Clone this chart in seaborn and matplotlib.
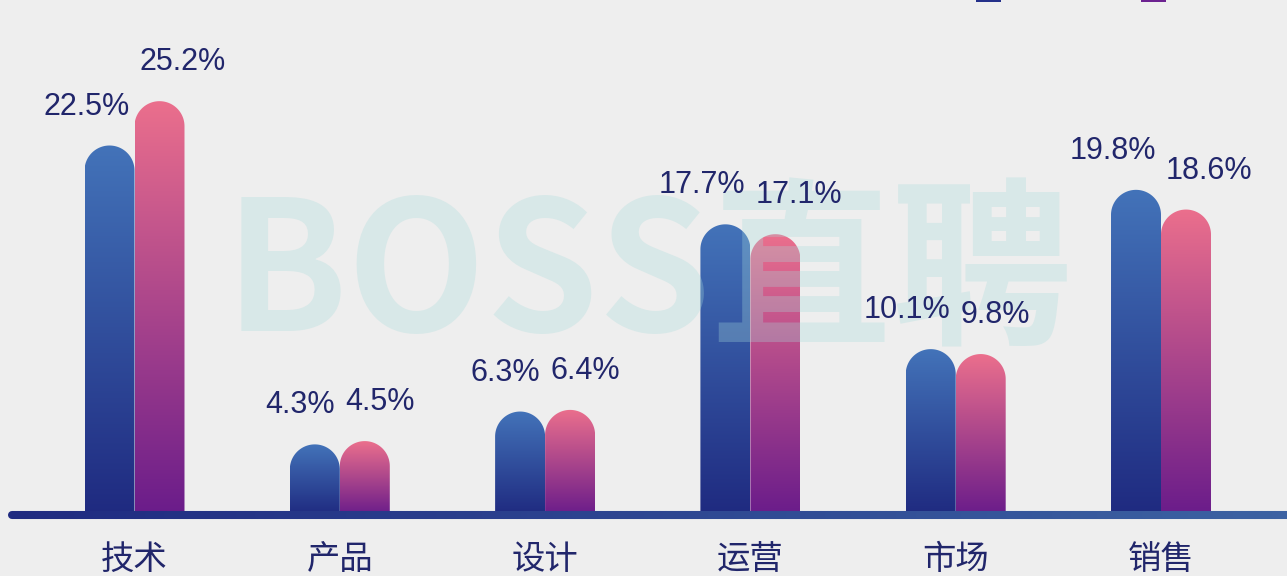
import numpy as np
import pandas as pd
import matplotlib
matplotlib.use("Agg")
import matplotlib.pyplot as plt
import seaborn as sns
from matplotlib.path import Path
from matplotlib.patches import PathPatch, Patch
from matplotlib.colors import LinearSegmentedColormap
from matplotlib.collections import LineCollection
from matplotlib.transforms import blended_transform_factory

# ── Data ─────────────────────────────────────────────────────────────────────
categories = ["技术", "产品", "设计", "运营", "市场", "销售"]
series_names = ["2023年", "2024年"]
values_a = [22.5, 4.3, 6.3, 17.7, 10.1, 19.8]
values_b = [25.2, 4.5, 6.4, 17.1, 9.8, 18.6]
watermark = "BOSS直聘"

# ── Style ────────────────────────────────────────────────────────────────────
BG = "#eeeeee"
TEXT = "#21266b"
grad_a = LinearSegmentedColormap.from_list("a", ["#1f2a80", "#4373b9"])
grad_b = LinearSegmentedColormap.from_list("b", ["#6a1c8a", "#eb6f8d"])
grad_line = LinearSegmentedColormap.from_list("l", ["#1f2a80", "#3c62a2"])

sns.set_theme(style="white")
plt.rcParams["font.family"] = ["Noto Sans CJK SC", "DejaVu Sans"]

df = pd.DataFrame({
    "岗位": categories * 2,
    "系列": [series_names[0]] * len(categories) + [series_names[1]] * len(categories),
    "占比": values_a + values_b,
})

W, H = 1287, 576
fig = plt.figure(figsize=(W / 100, H / 100), dpi=100, facecolor=BG)
ax = fig.add_axes([31.85 / W, 61 / H, 1231.8 / W, 515 / H])
ax.set_facecolor(BG)

sns.barplot(data=df, x="岗位", y="占比", hue="系列", order=categories,
            hue_order=series_names, width=0.487, gap=0, saturation=1,
            palette=["#27308a", "#6e2390"], legend=False, ax=ax)
ax.set_xlim(-0.5, 5.5)
ax.set_ylim(0, 31.36)

# pixel ratio so the rounded caps come out circular
p0 = ax.transData.transform((0, 0))
px_x = ax.transData.transform((1, 0))[0] - p0[0]
px_y = ax.transData.transform((0, 1))[1] - p0[1]

for container, cmap, side in zip(ax.containers, [grad_a, grad_b], [1, -1]):
    for bar in container:
        x0, w, h = bar.get_x(), bar.get_width(), bar.get_height()
        bar.set_visible(False)
        rx = w / 2
        ry = rx * px_x / px_y
        xc = x0 + rx
        theta = np.linspace(np.pi, 0, 60)
        arc = np.column_stack([xc + rx * np.cos(theta), (h - ry) + ry * np.sin(theta)])
        verts = np.vstack([[(x0, 0), (x0, h - ry)], arc, [(x0 + w, 0), (x0, 0)]])
        codes = [Path.MOVETO] + [Path.LINETO] * (len(verts) - 2) + [Path.CLOSEPOLY]
        clip = PathPatch(Path(verts, codes), facecolor="none", edgecolor="none",
                         transform=ax.transData)
        ax.add_patch(clip)
        img = ax.imshow(np.linspace(0, 1, 256).reshape(-1, 1), extent=[x0, x0 + w, 0, h],
                        origin="lower", aspect="auto", cmap=cmap, zorder=2)
        img.set_clip_path(clip)
        ax.annotate(f"{h:.1f}%", xy=(xc, h), xytext=(14.4 * side, 28),
                    textcoords="offset points", ha="right" if side > 0 else "left",
                    va="center", fontsize=22, color=TEXT, family="Liberation Sans",
                    zorder=8)

ax.set_xlim(-0.5, 5.5)
ax.set_ylim(0, 31.36)

# baseline with a left-to-right gradient
trans = blended_transform_factory(ax.transAxes, ax.transData)
xs = np.linspace((12 - 31.85) / 1231.8, 1.03, 200)
segs = [[(xs[i], 0), (xs[i + 1], 0)] for i in range(len(xs) - 1)]
lc = LineCollection(segs, colors=grad_line(np.linspace(0, 1, len(segs))),
                    linewidths=5.8, capstyle="round", transform=trans,
                    clip_on=False, zorder=5)
ax.add_collection(lc)

ax.set_xlabel("")
ax.set_ylabel("")
ax.set_yticks([])
ax.tick_params(axis="x", length=0, pad=19.5, labelsize=24, labelcolor=TEXT)
for s in ax.spines.values():
    s.set_visible(False)

# watermark: over the bars, under the value labels
ax.text(649 / W, (H - 331) / H, watermark, transform=fig.transFigure,
        ha="center", va="baseline", fontsize=130, fontweight="bold",
        color=(0.65, 0.86, 0.86), alpha=0.3, zorder=6, clip_on=False)

# legend sits above the visible area, only the bottom of the keys shows
for name, col, xpx in zip(series_names, ["#24308a", "#6c2290"], [976, 1141]):
    fig.legend(handles=[Patch(facecolor=col, edgecolor="none")], labels=[name],
               loc="lower left", bbox_to_anchor=(xpx / W, (H - 2) / H),
               frameon=False, borderpad=0, borderaxespad=0, fontsize=6,
               handlelength=3.0, handleheight=1.68, handletextpad=0.5,
               labelcolor=TEXT)

fig.savefig("out.png", dpi=100, facecolor=BG)
